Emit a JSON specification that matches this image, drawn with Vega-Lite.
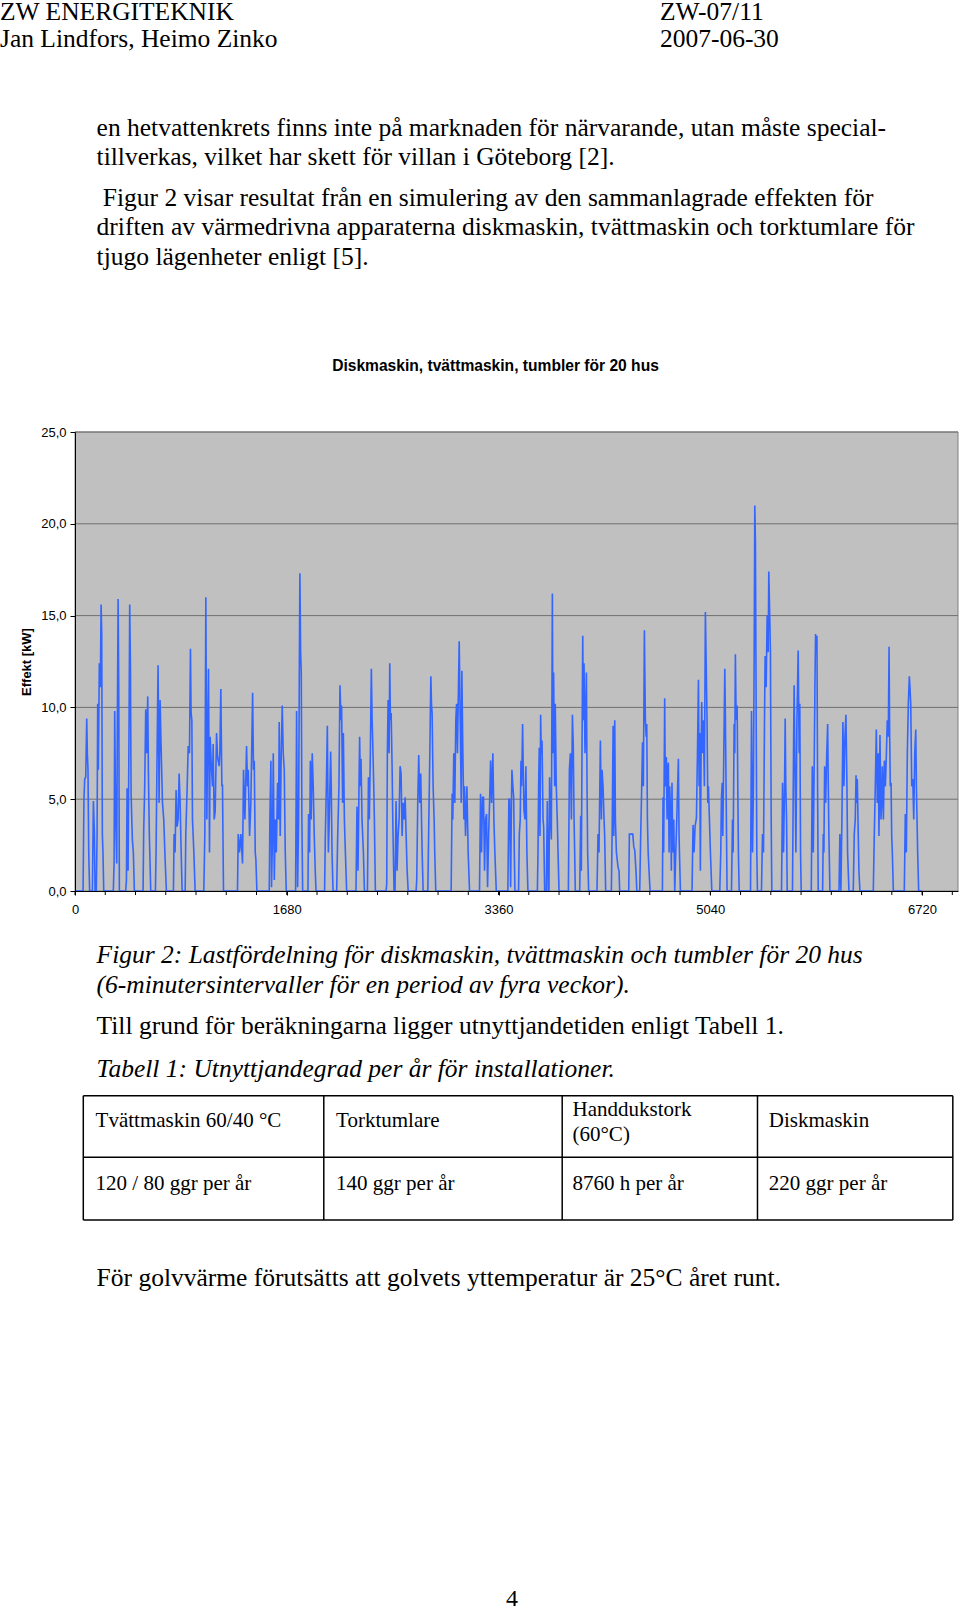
{
"$schema": "https://vega.github.io/schema/vega-lite/v6.json",
"padding": 0,
"spacing": 0,
"bounds": "flush",
"background": "white",
"config": {"view": {"stroke": null}, "font": "Liberation Sans", "axis": {"labelOverlap": false, "labelFlush": false}},
"datasets": {
"pageTop": [
{"text": "ZW ENERGITEKNIK", "x_mm": 0, "y_mm": 4.46, "kind": "header"},
{"text": "ZW-07/11", "x_mm": 144.35, "y_mm": 4.46, "kind": "header"},
{"text": "Jan Lindfors, Heimo Zinko", "x_mm": 0, "y_mm": 10.25, "kind": "header"},
{"text": "2007-06-30", "x_mm": 144.35, "y_mm": 10.25, "kind": "header"},
{"text": "en hetvattenkrets finns inte på marknaden för närvarande, utan måste special-", "x_mm": 21.13, "y_mm": 29.68, "kind": "body"},
{"text": "tillverkas, vilket har skett för villan i Göteborg [2].", "x_mm": 21.13, "y_mm": 36.2, "kind": "body"},
{"text": "Figur 2 visar resultat från en simulering av den sammanlagrade effekten för", "x_mm": 22.49, "y_mm": 44.98, "kind": "body"},
{"text": "driften av värmedrivna apparaterna diskmaskin, tvättmaskin och torktumlare för", "x_mm": 21.13, "y_mm": 51.49, "kind": "body"},
{"text": "tjugo lägenheter enligt [5].", "x_mm": 21.13, "y_mm": 58.01, "kind": "body"}
],
"pageBottom": [
{"text": "Figur 2: Lastfördelning för diskmaskin, tvättmaskin och tumbler för 20 hus", "x_mm": 21.13, "y_mm": 15.75, "kind": "caption"},
{"text": "(6-minutersintervaller för en period av fyra veckor).", "x_mm": 21.13, "y_mm": 22.31, "kind": "caption"},
{"text": "Till grund för beräkningarna ligger utnyttjandetiden enligt Tabell 1.", "x_mm": 21.13, "y_mm": 31.28, "kind": "body"},
{"text": "Tabell 1: Utnyttjandegrad per år för installationer.", "x_mm": 21.13, "y_mm": 40.69, "kind": "caption"},
{"text": "Tvättmaskin 60/40 °C", "x_mm": 20.91, "y_mm": 51.73, "kind": "table"},
{"text": "Torktumlare", "x_mm": 73.52, "y_mm": 51.73, "kind": "table"},
{"text": "Handdukstork", "x_mm": 125.23, "y_mm": 49.22, "kind": "table"},
{"text": "(60°C)", "x_mm": 125.23, "y_mm": 54.69, "kind": "table"},
{"text": "Diskmaskin", "x_mm": 168.18, "y_mm": 51.73, "kind": "table"},
{"text": "120 / 80 ggr per år", "x_mm": 20.91, "y_mm": 65.41, "kind": "table"},
{"text": "140 ggr per år", "x_mm": 73.52, "y_mm": 65.41, "kind": "table"},
{"text": "8760 h per år", "x_mm": 125.23, "y_mm": 65.41, "kind": "table"},
{"text": "220 ggr per år", "x_mm": 168.18, "y_mm": 65.41, "kind": "table"},
{"text": "För golvvärme förutsätts att golvets yttemperatur är 25°C året runt.", "x_mm": 21.13, "y_mm": 86.41, "kind": "body"},
{"text": "4", "x_mm": 112.0, "y_mm": 156.4, "kind": "page"}
],
"tableLines": [
{"x_mm": 18.22, "x2_mm": 208.43, "y_mm": 44.78, "y2_mm": 44.78},
{"x_mm": 18.22, "x2_mm": 208.43, "y_mm": 58.25, "y2_mm": 58.25},
{"x_mm": 18.22, "x2_mm": 208.43, "y_mm": 71.97, "y2_mm": 71.97},
{"x_mm": 18.22, "x2_mm": 18.22, "y_mm": 44.78, "y2_mm": 71.97},
{"x_mm": 70.83, "x2_mm": 70.83, "y_mm": 44.78, "y2_mm": 71.97},
{"x_mm": 122.98, "x2_mm": 122.98, "y_mm": 44.78, "y2_mm": 71.97},
{"x_mm": 165.7, "x2_mm": 165.7, "y_mm": 44.78, "y2_mm": 71.97},
{"x_mm": 208.43, "x2_mm": 208.43, "y_mm": 44.78, "y2_mm": 71.97}
],
"dayTicks": [
{"t":0},{"t":240},{"t":480},{"t":720},{"t":960},{"t":1200},{"t":1440},{"t":1680},{"t":1920},{"t":2160},{"t":2400},{"t":2640},{"t":2880},{"t":3120},{"t":3360},{"t":3600},{"t":3840},{"t":4080},{"t":4320},{"t":4560},{"t":4800},{"t":5040},{"t":5280},{"t":5520},{"t":5760},{"t":6000},{"t":6240},{"t":6480},{"t":6720},{"t":6960}
],
"effekt": [
{"t":0,"kw":0},{"t":64,"kw":0},{"t":71,"kw":5.0},{"t":77,"kw":6.1},{"t":85,"kw":6.2},{"t":93,"kw":9.4},{"t":98,"kw":7.5},{"t":103,"kw":6.6},{"t":109,"kw":2.1},{"t":116,"kw":0},
{"t":138,"kw":0},{"t":146,"kw":4.9},{"t":154,"kw":3.1},{"t":159,"kw":0},
{"t":169,"kw":0},{"t":175,"kw":3.0},{"t":180,"kw":10.2},{"t":185,"kw":6.6},{"t":193,"kw":12.4},{"t":201,"kw":11.1},{"t":207,"kw":15.6},{"t":212,"kw":14.0},{"t":217,"kw":3.1},{"t":222,"kw":2.1},{"t":228,"kw":0},
{"t":304,"kw":0},{"t":310,"kw":1.5},{"t":315,"kw":9.8},{"t":323,"kw":3.9},{"t":331,"kw":1.5},{"t":336,"kw":9.3},{"t":342,"kw":15.9},{"t":347,"kw":11.1},{"t":352,"kw":0},
{"t":402,"kw":0},{"t":408,"kw":0.6},{"t":413,"kw":5.6},{"t":421,"kw":1.1},{"t":429,"kw":9.3},{"t":434,"kw":15.6},{"t":440,"kw":12.1},{"t":445,"kw":5.3},{"t":455,"kw":2.8},{"t":463,"kw":2.1},{"t":471,"kw":0},
{"t":540,"kw":0},{"t":545,"kw":3.3},{"t":553,"kw":5.7},{"t":561,"kw":9.9},{"t":569,"kw":7.5},{"t":577,"kw":10.6},{"t":582,"kw":6.6},{"t":590,"kw":3.0},{"t":601,"kw":0},
{"t":638,"kw":0},{"t":643,"kw":2.1},{"t":649,"kw":6.1},{"t":654,"kw":9.3},{"t":659,"kw":12.3},{"t":667,"kw":4.8},{"t":675,"kw":10.4},{"t":683,"kw":7.9},{"t":694,"kw":4.8},{"t":704,"kw":3.9},{"t":715,"kw":1.7},{"t":725,"kw":0},
{"t":781,"kw":0},{"t":786,"kw":3.1},{"t":794,"kw":2.1},{"t":802,"kw":5.5},{"t":810,"kw":3.5},{"t":818,"kw":3.9},{"t":826,"kw":6.4},{"t":834,"kw":4.8},{"t":842,"kw":2.2},{"t":850,"kw":0},
{"t":874,"kw":0},{"t":879,"kw":3.1},{"t":890,"kw":5.7},{"t":898,"kw":7.9},{"t":908,"kw":7.5},{"t":916,"kw":13.2},{"t":921,"kw":9.7},{"t":927,"kw":9.3},{"t":932,"kw":3.9},{"t":943,"kw":2.1},{"t":953,"kw":0},
{"t":1022,"kw":0},{"t":1030,"kw":3.1},{"t":1038,"kw":16.0},{"t":1046,"kw":3.9},{"t":1054,"kw":9.3},{"t":1059,"kw":12.1},{"t":1067,"kw":2.1},{"t":1072,"kw":8.4},{"t":1083,"kw":6.6},{"t":1091,"kw":5.7},{"t":1096,"kw":8.0},{"t":1104,"kw":3.9},{"t":1112,"kw":4.3},{"t":1123,"kw":8.6},{"t":1131,"kw":7.3},{"t":1144,"kw":6.8},{"t":1149,"kw":7.5},{"t":1157,"kw":11.0},{"t":1165,"kw":5.7},{"t":1170,"kw":5.8},{"t":1178,"kw":0},
{"t":1289,"kw":0},{"t":1295,"kw":3.1},{"t":1305,"kw":2.1},{"t":1316,"kw":3.1},{"t":1329,"kw":1.5},{"t":1337,"kw":6.6},{"t":1348,"kw":3.9},{"t":1361,"kw":7.9},{"t":1369,"kw":5.7},{"t":1374,"kw":6.6},{"t":1385,"kw":3.0},{"t":1395,"kw":4.8},{"t":1409,"kw":10.8},{"t":1416,"kw":6.6},{"t":1422,"kw":7.1},{"t":1430,"kw":2.1},{"t":1435,"kw":1.7},{"t":1443,"kw":0},
{"t":1541,"kw":0},{"t":1546,"kw":3.9},{"t":1554,"kw":7.1},{"t":1559,"kw":0.2},{"t":1567,"kw":3.0},{"t":1573,"kw":7.5},{"t":1581,"kw":0.6},{"t":1589,"kw":3.9},{"t":1597,"kw":2.1},{"t":1607,"kw":5.9},{"t":1615,"kw":3.9},{"t":1620,"kw":9.2},{"t":1628,"kw":3.0},{"t":1636,"kw":7.5},{"t":1644,"kw":10.1},{"t":1652,"kw":7.5},{"t":1660,"kw":6.6},{"t":1668,"kw":2.1},{"t":1676,"kw":0},
{"t":1750,"kw":0},{"t":1758,"kw":9.8},{"t":1766,"kw":0.2},{"t":1774,"kw":3.9},{"t":1779,"kw":11.1},{"t":1784,"kw":17.3},{"t":1790,"kw":13.0},{"t":1795,"kw":11.9},{"t":1800,"kw":3.9},{"t":1806,"kw":0},
{"t":1848,"kw":0},{"t":1853,"kw":4.2},{"t":1861,"kw":2.1},{"t":1867,"kw":7.1},{"t":1874,"kw":3.9},{"t":1882,"kw":7.5},{"t":1890,"kw":5.7},{"t":1898,"kw":3.0},{"t":1906,"kw":1.1},{"t":1912,"kw":0},
{"t":1980,"kw":0},{"t":1986,"kw":3.0},{"t":1994,"kw":5.7},{"t":2002,"kw":9.0},{"t":2010,"kw":2.1},{"t":2017,"kw":3.9},{"t":2028,"kw":7.6},{"t":2033,"kw":5.7},{"t":2039,"kw":2.1},{"t":2047,"kw":0},
{"t":2076,"kw":0},{"t":2084,"kw":3.0},{"t":2094,"kw":5.7},{"t":2102,"kw":11.2},{"t":2110,"kw":9.3},{"t":2115,"kw":10.1},{"t":2123,"kw":4.8},{"t":2129,"kw":8.6},{"t":2137,"kw":3.9},{"t":2145,"kw":2.1},{"t":2155,"kw":0},
{"t":2229,"kw":0},{"t":2237,"kw":4.6},{"t":2245,"kw":1.1},{"t":2253,"kw":5.7},{"t":2258,"kw":8.4},{"t":2264,"kw":5.7},{"t":2269,"kw":7.2},{"t":2277,"kw":3.9},{"t":2288,"kw":2.1},{"t":2296,"kw":0},
{"t":2320,"kw":0},{"t":2328,"kw":6.2},{"t":2335,"kw":3.9},{"t":2343,"kw":7.5},{"t":2351,"kw":12.1},{"t":2357,"kw":9.3},{"t":2362,"kw":8.1},{"t":2370,"kw":5.7},{"t":2375,"kw":3.9},{"t":2383,"kw":0},
{"t":2468,"kw":0},{"t":2473,"kw":0.4},{"t":2478,"kw":7.5},{"t":2484,"kw":10.4},{"t":2492,"kw":7.5},{"t":2497,"kw":12.4},{"t":2502,"kw":9.3},{"t":2508,"kw":9.7},{"t":2516,"kw":6.6},{"t":2521,"kw":3.9},{"t":2531,"kw":0},
{"t":2539,"kw":0},{"t":2547,"kw":4.9},{"t":2555,"kw":1.1},{"t":2563,"kw":3.0},{"t":2571,"kw":3.9},{"t":2579,"kw":6.8},{"t":2587,"kw":6.4},{"t":2595,"kw":3.0},{"t":2603,"kw":4.8},{"t":2611,"kw":3.9},{"t":2619,"kw":5.1},{"t":2627,"kw":3.0},{"t":2635,"kw":1.1},{"t":2643,"kw":0},
{"t":2706,"kw":0},{"t":2711,"kw":0.6},{"t":2719,"kw":4.8},{"t":2727,"kw":7.4},{"t":2735,"kw":4.8},{"t":2743,"kw":6.4},{"t":2749,"kw":3.9},{"t":2754,"kw":2.1},{"t":2762,"kw":0},
{"t":2799,"kw":0},{"t":2807,"kw":3.9},{"t":2815,"kw":7.5},{"t":2823,"kw":11.7},{"t":2828,"kw":10.2},{"t":2833,"kw":9.7},{"t":2841,"kw":5.7},{"t":2849,"kw":3.9},{"t":2854,"kw":2.1},{"t":2862,"kw":0},
{"t":2984,"kw":0},{"t":2992,"kw":5.3},{"t":2997,"kw":3.9},{"t":3005,"kw":7.5},{"t":3013,"kw":4.8},{"t":3021,"kw":9.3},{"t":3027,"kw":10.2},{"t":3034,"kw":7.5},{"t":3042,"kw":11.1},{"t":3048,"kw":13.6},{"t":3056,"kw":9.3},{"t":3064,"kw":4.8},{"t":3069,"kw":12.0},{"t":3077,"kw":7.5},{"t":3085,"kw":3.9},{"t":3090,"kw":5.7},{"t":3098,"kw":3.0},{"t":3109,"kw":5.7},{"t":3114,"kw":3.9},{"t":3119,"kw":2.1},{"t":3130,"kw":0},
{"t":3209,"kw":0},{"t":3217,"kw":5.3},{"t":3225,"kw":2.1},{"t":3233,"kw":5.1},{"t":3241,"kw":5.1},{"t":3249,"kw":1.1},{"t":3257,"kw":3.9},{"t":3265,"kw":4.2},{"t":3273,"kw":0.2},{"t":3281,"kw":3.0},{"t":3289,"kw":4.8},{"t":3297,"kw":7.1},{"t":3305,"kw":4.8},{"t":3315,"kw":7.5},{"t":3323,"kw":3.9},{"t":3331,"kw":2.1},{"t":3342,"kw":0},
{"t":3434,"kw":0},{"t":3442,"kw":5.0},{"t":3448,"kw":5.0},{"t":3456,"kw":0.2},{"t":3461,"kw":3.9},{"t":3466,"kw":6.6},{"t":3474,"kw":5.7},{"t":3480,"kw":5.1},{"t":3485,"kw":2.1},{"t":3490,"kw":0},
{"t":3519,"kw":0},{"t":3525,"kw":3.1},{"t":3532,"kw":3.9},{"t":3538,"kw":7.1},{"t":3543,"kw":5.7},{"t":3551,"kw":9.1},{"t":3556,"kw":6.6},{"t":3562,"kw":4.4},{"t":3570,"kw":3.9},{"t":3577,"kw":6.8},{"t":3585,"kw":2.1},{"t":3593,"kw":0},
{"t":3668,"kw":0},{"t":3673,"kw":2.1},{"t":3678,"kw":5.7},{"t":3683,"kw":7.8},{"t":3689,"kw":3.0},{"t":3694,"kw":9.6},{"t":3699,"kw":7.5},{"t":3705,"kw":8.2},{"t":3713,"kw":3.9},{"t":3718,"kw":3.5},{"t":3726,"kw":0},
{"t":3739,"kw":0},{"t":3747,"kw":4.9},{"t":3755,"kw":0},{"t":3760,"kw":0},{"t":3765,"kw":6.2},{"t":3773,"kw":3.9},{"t":3779,"kw":2.8},{"t":3787,"kw":16.2},{"t":3792,"kw":7.5},{"t":3797,"kw":11.9},{"t":3805,"kw":5.7},{"t":3810,"kw":10.2},{"t":3818,"kw":5.7},{"t":3826,"kw":3.9},{"t":3832,"kw":2.1},{"t":3840,"kw":0},
{"t":3914,"kw":0},{"t":3922,"kw":6.6},{"t":3930,"kw":7.5},{"t":3938,"kw":3.9},{"t":3946,"kw":9.6},{"t":3953,"kw":7.9},{"t":3959,"kw":3.9},{"t":3964,"kw":2.1},{"t":3969,"kw":0},
{"t":4004,"kw":0},{"t":4012,"kw":4.1},{"t":4017,"kw":1.1},{"t":4022,"kw":7.5},{"t":4028,"kw":13.9},{"t":4033,"kw":9.3},{"t":4038,"kw":12.4},{"t":4046,"kw":7.5},{"t":4051,"kw":9.3},{"t":4057,"kw":11.9},{"t":4062,"kw":5.7},{"t":4067,"kw":2.1},{"t":4075,"kw":0},
{"t":4141,"kw":0},{"t":4149,"kw":3.1},{"t":4157,"kw":2.1},{"t":4168,"kw":8.2},{"t":4176,"kw":3.9},{"t":4181,"kw":6.6},{"t":4189,"kw":5.7},{"t":4197,"kw":3.9},{"t":4202,"kw":3.0},{"t":4210,"kw":0},
{"t":4255,"kw":0},{"t":4261,"kw":3.1},{"t":4269,"kw":9.0},{"t":4274,"kw":3.0},{"t":4282,"kw":9.3},{"t":4287,"kw":3.9},{"t":4295,"kw":2.1},{"t":4308,"kw":1.3},{"t":4316,"kw":1.1},{"t":4321,"kw":0},
{"t":4393,"kw":0},{"t":4398,"kw":3.1},{"t":4425,"kw":3.1},{"t":4433,"kw":2.4},{"t":4441,"kw":2.2},{"t":4451,"kw":1.0},{"t":4457,"kw":0},
{"t":4480,"kw":0},{"t":4488,"kw":3.1},{"t":4496,"kw":5.7},{"t":4502,"kw":8.1},{"t":4509,"kw":5.7},{"t":4517,"kw":14.2},{"t":4525,"kw":9.3},{"t":4531,"kw":8.4},{"t":4536,"kw":9.1},{"t":4541,"kw":3.9},{"t":4547,"kw":2.1},{"t":4554,"kw":1.1},{"t":4562,"kw":0},
{"t":4660,"kw":0},{"t":4665,"kw":5.1},{"t":4670,"kw":2.1},{"t":4678,"kw":10.5},{"t":4683,"kw":5.7},{"t":4691,"kw":7.3},{"t":4697,"kw":3.9},{"t":4702,"kw":6.6},{"t":4707,"kw":7.0},{"t":4713,"kw":2.1},{"t":4718,"kw":5.7},{"t":4726,"kw":3.9},{"t":4731,"kw":1.1},{"t":4736,"kw":5.9},{"t":4742,"kw":2.1},{"t":4750,"kw":3.9},{"t":4758,"kw":0},{"t":4766,"kw":2.1},{"t":4774,"kw":3.9},{"t":4781,"kw":5.7},{"t":4787,"kw":7.2},{"t":4792,"kw":3.0},{"t":4803,"kw":0},
{"t":4895,"kw":0},{"t":4903,"kw":3.6},{"t":4911,"kw":2.1},{"t":4919,"kw":3.5},{"t":4930,"kw":4.0},{"t":4938,"kw":7.5},{"t":4946,"kw":11.5},{"t":4951,"kw":5.7},{"t":4956,"kw":8.6},{"t":4961,"kw":1.1},{"t":4967,"kw":7.5},{"t":4972,"kw":10.3},{"t":4977,"kw":7.5},{"t":4985,"kw":9.3},{"t":4993,"kw":5.7},{"t":5001,"kw":15.2},{"t":5006,"kw":13.0},{"t":5014,"kw":9.3},{"t":5020,"kw":4.8},{"t":5025,"kw":5.7},{"t":5033,"kw":3.9},{"t":5041,"kw":2.1},{"t":5052,"kw":0},
{"t":5115,"kw":0},{"t":5123,"kw":2.1},{"t":5128,"kw":5.0},{"t":5134,"kw":5.9},{"t":5139,"kw":3.0},{"t":5147,"kw":7.5},{"t":5155,"kw":12.1},{"t":5160,"kw":9.3},{"t":5165,"kw":5.7},{"t":5173,"kw":0},
{"t":5208,"kw":0},{"t":5216,"kw":3.9},{"t":5221,"kw":2.1},{"t":5229,"kw":9.1},{"t":5234,"kw":7.5},{"t":5239,"kw":12.9},{"t":5245,"kw":9.3},{"t":5253,"kw":10.1},{"t":5258,"kw":5.7},{"t":5263,"kw":2.1},{"t":5269,"kw":0},
{"t":5359,"kw":0},{"t":5367,"kw":9.8},{"t":5375,"kw":2.1},{"t":5382,"kw":5.7},{"t":5388,"kw":13.0},{"t":5393,"kw":21.0},{"t":5398,"kw":19.0},{"t":5404,"kw":9.3},{"t":5409,"kw":2.1},{"t":5414,"kw":0},
{"t":5446,"kw":0},{"t":5454,"kw":3.1},{"t":5462,"kw":2.1},{"t":5470,"kw":9.3},{"t":5475,"kw":12.8},{"t":5483,"kw":11.1},{"t":5491,"kw":15.0},{"t":5499,"kw":13.0},{"t":5504,"kw":17.4},{"t":5512,"kw":14.8},{"t":5517,"kw":13.0},{"t":5523,"kw":3.9},{"t":5528,"kw":0},
{"t":5605,"kw":0},{"t":5613,"kw":5.9},{"t":5621,"kw":2.1},{"t":5629,"kw":5.7},{"t":5634,"kw":9.4},{"t":5639,"kw":5.7},{"t":5645,"kw":3.9},{"t":5650,"kw":0},
{"t":5692,"kw":0},{"t":5700,"kw":7.5},{"t":5705,"kw":11.2},{"t":5713,"kw":5.7},{"t":5719,"kw":2.1},{"t":5727,"kw":9.3},{"t":5732,"kw":11.1},{"t":5737,"kw":13.1},{"t":5745,"kw":7.5},{"t":5750,"kw":10.2},{"t":5756,"kw":2.1},{"t":5761,"kw":0},
{"t":5841,"kw":0},{"t":5849,"kw":6.8},{"t":5857,"kw":2.1},{"t":5865,"kw":7.5},{"t":5870,"kw":11.1},{"t":5875,"kw":14.0},{"t":5880,"kw":13.0},{"t":5886,"kw":13.9},{"t":5891,"kw":5.7},{"t":5896,"kw":0},
{"t":5931,"kw":0},{"t":5936,"kw":3.1},{"t":5941,"kw":2.1},{"t":5947,"kw":6.8},{"t":5955,"kw":4.8},{"t":5963,"kw":7.3},{"t":5971,"kw":9.1},{"t":5976,"kw":5.7},{"t":5981,"kw":3.0},{"t":5989,"kw":0},
{"t":6061,"kw":0},{"t":6068,"kw":3.1},{"t":6076,"kw":0},{"t":6084,"kw":3.9},{"t":6092,"kw":9.2},{"t":6100,"kw":5.7},{"t":6108,"kw":8.4},{"t":6116,"kw":9.6},{"t":6124,"kw":5.7},{"t":6129,"kw":2.1},{"t":6140,"kw":0},
{"t":6174,"kw":0},{"t":6182,"kw":3.1},{"t":6190,"kw":3.9},{"t":6196,"kw":6.3},{"t":6201,"kw":4.8},{"t":6206,"kw":6.1},{"t":6214,"kw":3.0},{"t":6219,"kw":1.1},{"t":6227,"kw":0},
{"t":6333,"kw":0},{"t":6341,"kw":3.1},{"t":6349,"kw":5.7},{"t":6357,"kw":8.8},{"t":6365,"kw":4.8},{"t":6373,"kw":7.5},{"t":6378,"kw":3.0},{"t":6386,"kw":8.5},{"t":6394,"kw":3.9},{"t":6399,"kw":4.8},{"t":6405,"kw":6.8},{"t":6413,"kw":3.9},{"t":6421,"kw":7.1},{"t":6429,"kw":5.7},{"t":6437,"kw":7.5},{"t":6444,"kw":9.3},{"t":6452,"kw":8.4},{"t":6458,"kw":13.3},{"t":6463,"kw":8.4},{"t":6468,"kw":5.7},{"t":6474,"kw":5.9},{"t":6479,"kw":3.0},{"t":6484,"kw":2.1},{"t":6492,"kw":0},
{"t":6579,"kw":0},{"t":6587,"kw":4.2},{"t":6595,"kw":2.1},{"t":6603,"kw":7.5},{"t":6611,"kw":10.2},{"t":6619,"kw":11.7},{"t":6624,"kw":11.1},{"t":6630,"kw":10.2},{"t":6638,"kw":5.7},{"t":6646,"kw":6.1},{"t":6654,"kw":3.9},{"t":6662,"kw":7.5},{"t":6670,"kw":8.8},{"t":6675,"kw":5.7},{"t":6680,"kw":3.9},{"t":6685,"kw":2.1},{"t":6693,"kw":0},{"t":6720,"kw":0}
]
},
"vconcat": [
{
"width": 960, "height": 432,
"data": {"name": "pageTop"},
"encoding": {
"x": {"field": "x_mm", "type": "quantitative", "scale": {"domain": [0, 210], "nice": false, "zero": false}, "axis": null},
"y": {"field": "y_mm", "type": "quantitative", "scale": {"domain": [0, 94.5], "nice": false, "zero": false, "reverse": true}, "axis": null},
"text": {"field": "text"}
},
"mark": {"type": "text", "font": "Liberation Serif", "fontSize": 25.5, "align": "left", "baseline": "alphabetic", "color": "#000000"}
},
{
"width": 960, "height": 459,
"title": {"text": "Diskmaskin, tvättmaskin, tumbler för 20 hus", "font": "Liberation Sans", "fontSize": 15.6, "fontWeight": "bold", "color": "#000000", "anchor": "middle", "frame": "group", "dx": 15.5, "offset": 39, "baseline": "alphabetic"},
"layer": [
{
"data": {"values": [{}]},
"mark": {"type": "rect", "fill": "#c0c0c0", "stroke": "#808080", "strokeWidth": 1},
"encoding": {
"x": {"datum": 0, "type": "quantitative"}, "x2": {"datum": 7005},
"y": {"datum": 0, "type": "quantitative"}, "y2": {"datum": 25}
}
},
{
"data": {"values": [{"kw": 5}, {"kw": 10}, {"kw": 15}, {"kw": 20}, {"kw": 25}]},
"mark": {"type": "rule", "color": "#707070", "strokeWidth": 1},
"encoding": {
"x": {"datum": 0, "type": "quantitative"}, "x2": {"datum": 7005},
"y": {"field": "kw", "type": "quantitative"}
}
},
{
"data": {"name": "dayTicks"},
"mark": {"type": "rule", "color": "#000000", "strokeWidth": 1, "clip": false},
"encoding": {
"x": {"field": "t", "type": "quantitative"},
"y": {"datum": 0, "type": "quantitative"}, "y2": {"datum": -0.22}
}
},
{
"data": {"name": "effekt"},
"mark": {"type": "line", "color": "#3366ff", "strokeWidth": 1.6, "clip": true},
"encoding": {
"x": {"field": "t", "type": "quantitative", "scale": {"domain": [0, 7005], "range": [75, 958], "nice": false, "zero": false},
"axis": {"title": null, "zindex": 1, "values": [0, 1680, 3360, 5040, 6720], "format": "d", "labelFont": "Liberation Sans", "labelFontSize": 13, "labelColor": "#000000", "labelPadding": 8, "tickSize": 4, "tickColor": "#000000", "domainColor": "#000000", "grid": false, "labelOverlap": false, "labelFlush": false, "labelBound": false}},
"y": {"field": "kw", "type": "quantitative", "scale": {"domain": [0, 25], "nice": false, "zero": false},
"axis": {"offset": -75, "zindex": 1, "values": [0,5,10,15,20,25], "labelExpr": "replace(format(datum.value, '.1f'), '.', ',')", "title": "Effekt [kW]", "titleFont": "Liberation Sans", "titleFontSize": 13, "titleFontWeight": "bold", "titleColor": "#000000", "titleX": -49, "titleY": 229.5, "titleAngle": -90, "titleBaseline": "middle", "titleAlign": "center",
"labelFont": "Liberation Sans", "labelFontSize": 13, "labelColor": "#000000", "labelPadding": 4, "tickSize": 5, "tickColor": "#000000", "domainColor": "#000000", "grid": false, "labelOverlap": false}}
}
}
]
},
{
"width": 960, "height": 720,
"encoding": {
"x": {"field": "x_mm", "type": "quantitative", "scale": {"domain": [0, 210], "nice": false, "zero": false}, "axis": null},
"y": {"field": "y_mm", "type": "quantitative", "scale": {"domain": [0, 157.5], "nice": false, "zero": false, "reverse": true}, "axis": null}
},
"layer": [
{
"data": {"name": "tableLines"},
"mark": {"type": "rule", "color": "#000000", "strokeWidth": 1.5},
"encoding": {"x2": {"field": "x2_mm"}, "y2": {"field": "y2_mm"}}
},
{
"data": {"name": "pageBottom"},
"transform": [{"filter": "datum.kind === 'body'"}],
"mark": {"type": "text", "font": "Liberation Serif", "fontSize": 25.5, "align": "left", "baseline": "alphabetic", "color": "#000000"},
"encoding": {"text": {"field": "text"}}
},
{
"data": {"name": "pageBottom"},
"transform": [{"filter": "datum.kind === 'caption'"}],
"mark": {"type": "text", "font": "Liberation Serif", "fontSize": 25.5, "fontStyle": "italic", "align": "left", "baseline": "alphabetic", "color": "#000000"},
"encoding": {"text": {"field": "text"}}
},
{
"data": {"name": "pageBottom"},
"transform": [{"filter": "datum.kind === 'table'"}],
"mark": {"type": "text", "font": "Liberation Serif", "fontSize": 21, "align": "left", "baseline": "alphabetic", "color": "#000000"},
"encoding": {"text": {"field": "text"}}
},
{
"data": {"name": "pageBottom"},
"transform": [{"filter": "datum.kind === 'page'"}],
"mark": {"type": "text", "font": "Liberation Serif", "fontSize": 24, "align": "center", "baseline": "alphabetic", "color": "#000000"},
"encoding": {"text": {"field": "text"}}
}
]
}
]
}
